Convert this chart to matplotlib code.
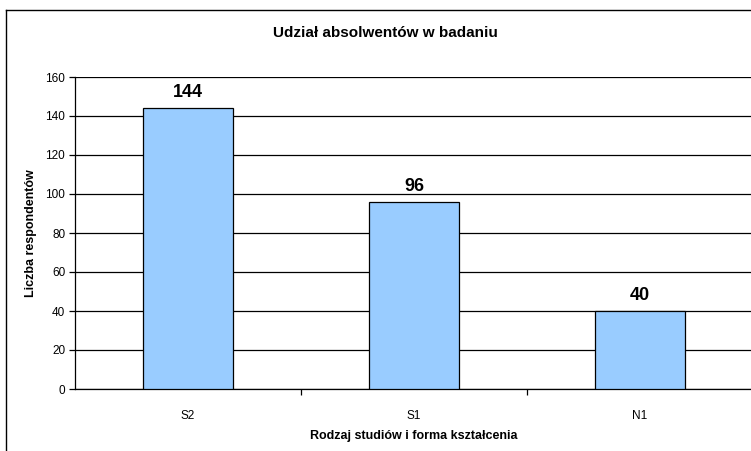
import matplotlib
matplotlib.use("Agg")
import matplotlib.pyplot as plt
from matplotlib.lines import Line2D

plt.rcParams['font.family'] = ['Liberation Sans', 'DejaVu Sans']

categories = ['S2', 'S1', 'N1']
values = [144, 96, 40]
title = 'Udział absolwentów w badaniu'
xlabel = 'Rodzaj studiów i forma kształcenia'
ylabel = 'Liczba respondentów'

W, H = 751, 451
fig = plt.figure(figsize=(W / 100, H / 100), dpi=100)
ax = fig.add_axes([75 / W, (H - 389) / H, 678 / W, 312 / H])

x = range(len(categories))
bars = ax.bar(x, values, width=0.4, color='#99CCFF', edgecolor='black', linewidth=0.9, zorder=3)

ax.set_xlim(-0.5, len(categories) - 0.5)
ax.set_ylim(0, 160)
ax.set_yticks(range(0, 161, 20))
ax.yaxis.grid(True, color='black', linewidth=0.9, zorder=0)
ax.set_axisbelow(True)

# x ticks sit between categories, labels in the middle
ax.set_xticks([0.5 + i for i in range(len(categories))])
ax.set_xticklabels([])
ax.set_xticks(list(x), minor=True)
ax.set_xticklabels(categories, minor=True, fontsize=8.5)
ax.tick_params(axis='x', which='minor', length=0, pad=15)
ax.tick_params(axis='x', which='major', length=4, width=0.9, direction='out')
ax.tick_params(axis='y', length=4, width=0.9, labelsize=8.5, pad=3)

for side in ['top', 'right']:
    ax.spines[side].set_visible(False)
for side in ['left', 'bottom']:
    ax.spines[side].set_linewidth(0.9)

for rect, v in zip(bars, values):
    ax.annotate(str(v), (rect.get_x() + rect.get_width() / 2, v), xytext=(0, 5),
                textcoords='offset points', ha='center', va='bottom',
                fontsize=13, fontweight='bold')

ax.set_xlabel(xlabel, fontsize=9, fontweight='bold', labelpad=6)
ax.set_ylabel(ylabel, fontsize=9, fontweight='bold', labelpad=6)

fig.text(385 / W, 1 - 33 / H, title, ha='center', va='center', fontsize=11, fontweight='bold')

# chart area border (left and top visible)
fig.add_artist(Line2D([5.5 / W, 5.5 / W], [0, 1 - 10 / H], color='black', linewidth=1))
fig.add_artist(Line2D([5.5 / W, 1], [1 - 10 / H, 1 - 10 / H], color='black', linewidth=1))

fig.savefig('out.png', dpi=100)
